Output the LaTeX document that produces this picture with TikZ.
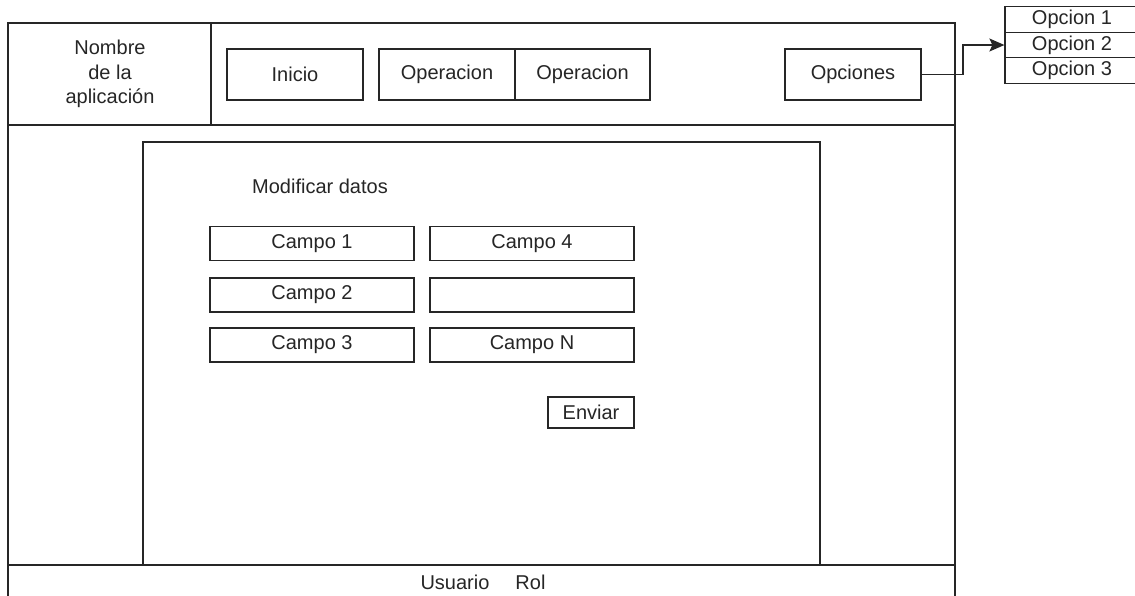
\documentclass[tikz,border=0pt]{standalone}
\usepackage{fontspec}
\setmainfont{Liberation Sans}
\usetikzlibrary{arrows.meta}
\begin{document}
\begin{tikzpicture}[x=1pt,y=-1pt,
  every node/.style={font=\fontsize{20}{24.5}\selectfont, text=black!85},
  line/.style={draw=black!85, line width=1.2pt},
  ui/.style={line, rectangle, inner sep=0pt, minimum height=51pt, minimum width=136pt},
  campo/.style={line, rectangle, inner sep=0pt, minimum height=34pt, minimum width=204pt},
  opt/.style={line, rectangle, inner sep=0pt, minimum height=25.5pt, minimum width=134pt},
  plain/.style={inner sep=0pt, align=center}
]
\useasboundingbox (0,0) rectangle (1135,595);
\fill[white] (0,0) rectangle (1135,595);

% application frame: header, content area, footer
\draw[line] (8,23) rectangle (955,610);
\draw[line] (8,125) -- (955,125);
\draw[line] (211,23) -- (211,125);
\draw[line] (8,565) -- (955,565);

% header
\node[plain] (appname) at (110,74) {Nombre\\de la\\aplicación};
\node[ui] (inicio) at (295,74.5) {Inicio};
\node[ui] (op1) at (447,74.5) {Operacion};
\node[ui, minimum width=135pt] (op2) at (582.5,74.5) {Operacion};
\node[ui] (opciones) at (853,74.5) {Opciones};

% options menu (runs past the right edge)
\node[opt] (o1) at (1072,19.5) {Opcion 1};
\node[opt] (o2) at (1072,45) {Opcion 2};
\node[opt] (o3) at (1072,70.5) {Opcion 3};
\coordinate (bend) at (963,74.5);
\draw[line, -{Stealth[length=15pt,width=13pt,inset=3pt]}] (opciones.east) -- (bend) |- (o2.west);

% content panel
\draw[line] (143,142) rectangle (820,565);
\node[plain] (titulo) at (320,186) {Modificar datos};
\node[campo] (c1) at (312,243.5) {Campo 1};
\node[campo] (c4) at (532,243.5) {Campo 4};
\node[campo] (c2) at (312,295) {Campo 2};
\node[campo] (c5) at (532,295) {};
\node[campo] (c3) at (312,345) {Campo 3};
\node[campo] (cn) at (532,345) {Campo N};
\node[line, rectangle, inner sep=0pt, minimum width=86pt, minimum height=31pt] (enviar) at (591,412.5) {Enviar};

% footer
\node[plain] (footer) at (483,582) {Usuario\hspace{1.3em}Rol};
\end{tikzpicture}
\end{document}
